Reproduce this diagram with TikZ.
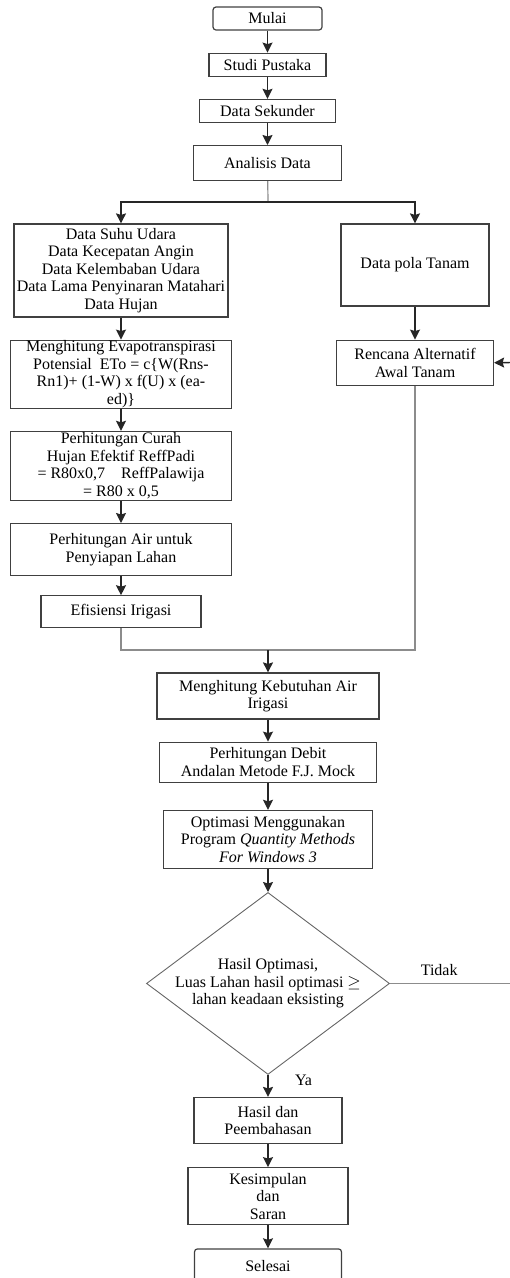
\documentclass[tikz,border=0pt]{standalone}
\usepackage{fontspec}
\setmainfont{Liberation Serif}
\usepackage{tikz}
\usetikzlibrary{shapes.geometric, arrows, arrows.meta, positioning}
\tikzset{
    startstop/.style={rectangle, rounded corners=3pt, align=center, draw=black!75, line width=1.2pt, inner sep=0pt},
    process/.style={rectangle, align=center, draw=black!75, line width=1.2pt, inner sep=0pt},
    decision/.style={diamond, draw=black!60, line width=0.9pt, inner sep=0pt},
    arrow/.style={line width=1.4pt,->,>={Stealth[length=10pt, width=10pt, inset=1.5pt]}, black!85},
    line/.style={line width=1.2pt, black!45}
}
\begin{document}
\begin{tikzpicture}[x=1pt, y=1pt, node distance=22pt, font=\fontsize{16}{17.5}\selectfont]
    \useasboundingbox (0,0) rectangle (510,-1278);
    % main column
    \node (mulai) [startstop, minimum width=109pt, minimum height=23pt] at (267.5,-18.5) {Mulai};
    \node (studi) [process, below=of mulai, minimum width=117pt, minimum height=23pt] {Studi Pustaka};
    \node (sekunder) [process, below=of studi, minimum width=136pt, minimum height=23pt] {Data Sekunder};
    \node (analisis) [process, below=of sekunder, minimum width=148pt, minimum height=35pt] {Analisis Data};

    % left column
    \node (data) [process, minimum width=214pt, minimum height=93pt] at (121,-270.5) {Data Suhu Udara\\Data Kecepatan Angin\\Data Kelembaban Udara\\Data Lama Penyinaran Matahari\\Data Hujan};
    \node (evapo) [process, below=of data, minimum width=221pt, minimum height=68pt] {Menghitung Evapotranspirasi\\Potensial\ \ ETo = c\{W(Rns-\\Rn1)+ (1-W) x f(U) x (ea-\\ed)\}};
    \node (curah) [process, below=of evapo, minimum width=221pt, minimum height=69pt] {Perhitungan Curah\\Hujan Efektif ReffPadi\\= R80x0,7\quad ReffPalawija\\= R80 x 0,5};
    \node (air) [process, below=of curah, minimum width=221pt, minimum height=52pt] {Perhitungan Air untuk\\Penyiapan Lahan};
    \node (efisiensi) [process, below=19pt of air, minimum width=160pt, minimum height=32pt] {Efisiensi Irigasi};

    % right column
    \node (pola) [process, minimum width=148pt, minimum height=82pt] at (415,-265) {Data pola Tanam};
    \node (rencana) [process, below=33pt of pola, minimum width=157pt, minimum height=45pt] {Rencana Alternatif\\Awal Tanam};

    % lower column
    \node (kebutuhan) [process, minimum width=222pt, minimum height=46pt] at (268,-696) {Menghitung Kebutuhan Air\\Irigasi};
    \node (debit) [process, below=of kebutuhan, minimum width=217pt, minimum height=40pt] {Perhitungan Debit\\Andalan Metode F.J. Mock};
    \node (optimasi) [process, below=27pt of debit, minimum width=209pt, minimum height=58pt] {Optimasi Menggunakan\\Program \textit{Quantity Methods}\\\textit{For Windows 3}};
    \node (cek) [decision, below=23pt of optimasi, minimum width=243pt, minimum height=182pt,
        label={[align=center]center:{Hasil Optimasi,\\Luas Lahan hasil optimasi $\geq$\\lahan keadaan eksisting}}] {};
    \node (hasil) [process, below=of cek, minimum width=148pt, minimum height=46pt] {Hasil dan\\Peembahasan};
    \node (simpul) [process, below=23pt of hasil, minimum width=160pt, minimum height=57pt] {Kesimpulan\\dan\\Saran};
    \node (selesai) [startstop, below=23pt of simpul, minimum width=147pt, minimum height=34pt] {Selesai};

    \coordinate (split) at (268,-202);
    \coordinate (join) at (268,-650);
    \coordinate (back) at (513,-362.5);

    \draw [arrow] (mulai) -- (studi);
    \draw [arrow] (studi) -- (sekunder);
    \draw [arrow] (sekunder) -- (analisis);
    \draw [line] (analisis) -- (split);
    \draw [arrow] (split) -| (data);
    \draw [arrow] (split) -| (pola);
    \draw [arrow] (data) -- (evapo);
    \draw [arrow] (evapo) -- (curah);
    \draw [arrow] (curah) -- (air);
    \draw [arrow] (air) -- (efisiensi);
    \draw [arrow] (pola) -- (rencana);
    \draw [line] (efisiensi) |- (join);
    \draw [line] (rencana) |- (join);
    \draw [arrow] (join) -- (kebutuhan);
    \draw [arrow] (kebutuhan) -- (debit);
    \draw [arrow] (debit) -- (optimasi);
    \draw [arrow] (optimasi) -- (cek);
    \draw [arrow] (cek) -- node[right, pos=0.26, xshift=23pt, black] {Ya} (hasil);
    \draw [line] (cek.east) -- node[above, pos=0.4, yshift=4pt, black] {Tidak} (cek.east -| back) -- (back);
    \draw [arrow] (back) -- (rencana.east);
    \draw [arrow] (hasil) -- (simpul);
    \draw [arrow] (simpul) -- (selesai);
\end{tikzpicture}
\end{document}
